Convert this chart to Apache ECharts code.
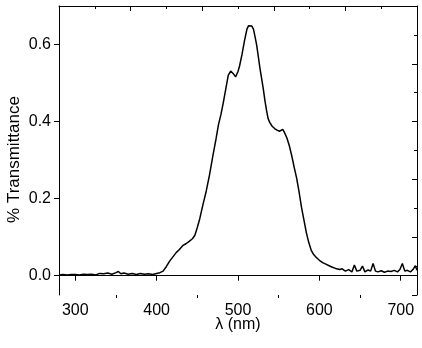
<!DOCTYPE html>
<html>
<head>
<meta charset="utf-8">
<script src="https://cdn.jsdelivr.net/npm/echarts@6/dist/echarts.min.js"></script>
<style>
  html, body { margin: 0; padding: 0; background: #fff; }
  #chart { width: 422px; height: 348px; }
</style>
</head>
<body>
<div id="chart"></div>
<script>
// transmission spectrum
const wavelength = [
  280, 285, 290, 295, 300, 305, 310, 315, 320, 325, 330, 335, 340, 345, 350, 353, 356, 360,
  365, 370, 375, 380, 385, 390, 395, 400, 404, 408, 412, 416, 420, 424, 428, 432, 436, 440,
  444, 447, 450, 453, 457, 461, 465, 469, 473, 476, 479, 482, 485, 488, 491, 494, 497, 500,
  502, 505, 508, 511, 513, 515, 517, 519, 521, 523, 525, 527, 529, 531, 533, 535, 537, 539,
  542, 545, 548, 551, 553, 555, 557, 560, 563, 566, 569, 572, 575, 578, 581, 584, 587, 590,
  593, 596, 600, 604, 608, 612, 616, 620, 625, 628, 632, 636, 640, 643, 646, 650, 653, 656,
  660, 663, 666, 669, 672, 676, 680, 684, 688, 692, 696, 699, 702, 705, 708, 712, 715, 718, 720
]
const transmittance = [
  0.002, 0.003, 0.002, 0.003, 0.003, 0.002, 0.004, 0.003, 0.004, 0.002, 0.006, 0.005, 0.007, 0.004, 0.008, 0.011, 0.005, 0.007,
  0.004, 0.006, 0.003, 0.006, 0.004, 0.005, 0.003, 0.006, 0.008, 0.012, 0.024, 0.038, 0.049, 0.060, 0.068, 0.078, 0.083, 0.089,
  0.096, 0.105, 0.125, 0.148, 0.185, 0.220, 0.262, 0.310, 0.355, 0.392, 0.418, 0.450, 0.485, 0.520, 0.531, 0.525, 0.516, 0.530,
  0.545, 0.575, 0.610, 0.640, 0.649, 0.652, 0.648, 0.640, 0.620, 0.598, 0.568, 0.538, 0.512, 0.486, 0.456, 0.430, 0.408, 0.398,
  0.388, 0.382, 0.378, 0.375, 0.378, 0.380, 0.372, 0.358, 0.338, 0.312, 0.282, 0.254, 0.218, 0.178, 0.145, 0.112, 0.086, 0.066,
  0.055, 0.048, 0.040, 0.034, 0.030, 0.026, 0.022, 0.019, 0.016, 0.018, 0.012, 0.016, 0.010, 0.028, 0.012, 0.014, 0.025, 0.010,
  0.015, 0.012, 0.032, 0.012, 0.010, 0.013, 0.009, 0.012, 0.011, 0.014, 0.010, 0.016, 0.032, 0.012, 0.014, 0.010, 0.016, 0.026, 0.014
]
const xMajorTicks = [300, 400, 500, 600, 700]
const xMinorTicks = [350, 450, 550, 650]
const yTicks = [0, 0.2, 0.4, 0.6]

const FONT = '"Liberation Sans", Arial, sans-serif'
const chart = echarts.init(document.getElementById('chart'))

// top/right frame axes have their own divisions (0..5), no labels
const frameAxis = (pos) => ({
  position: pos,
  type: 'value',
  min: 0,
  max: 5,
  interval: 1,
  axisLine: { show: true, lineStyle: { color: '#000', width: 1 } },
  axisTick: { show: true, inside: true, length: 5, lineStyle: { color: '#000' } },
  minorTick: { show: true, splitNumber: 2, length: 3, lineStyle: { color: '#000' } },
  axisLabel: { show: false },
  splitLine: { show: false }
})

chart.setOption({
  animation: false,
  backgroundColor: '#fff',
  grid: { left: 59, right: 5, top: 6, bottom: 53, outerBoundsMode: 'none' },
  xAxis: [
    {
      type: 'value',
      position: 'bottom',
      min: 280,
      max: 720,
      name: 'λ (nm)',
      nameLocation: 'middle',
      nameGap: 22,
      nameMoveOverlap: false,
      nameTextStyle: { fontFamily: FONT, fontSize: 16, color: '#000' },
      axisLine: { show: true, lineStyle: { color: '#000', width: 1 } },
      axisTick: { show: true, length: 5, customValues: xMajorTicks, lineStyle: { color: '#000' } },
      axisLabel: { customValues: xMajorTicks, margin: 8, fontFamily: FONT, fontSize: 16, color: '#000' },
      splitLine: { show: false }
    },
    {
      type: 'value',
      position: 'bottom',
      min: 280,
      max: 720,
      axisLine: { show: false },
      axisTick: { show: true, length: 3, customValues: xMinorTicks, lineStyle: { color: '#000' } },
      axisLabel: { show: false },
      splitLine: { show: false }
    },
    frameAxis('top')
  ],
  yAxis: [
    {
      type: 'value',
      position: 'left',
      min: -0.05,
      max: 0.7,
      name: '% Transmittance',
      nameLocation: 'middle',
      nameGap: 36,
      nameMoveOverlap: false,
      nameTextStyle: { fontFamily: FONT, fontSize: 17, color: '#000', padding: [0, 18, 0, 0] },
      axisLine: { show: true, lineStyle: { color: '#000', width: 1 } },
      axisTick: { show: true, length: 5, customValues: yTicks, lineStyle: { color: '#000' } },
      axisLabel: {
        customValues: yTicks,
        margin: 8,
        fontFamily: FONT,
        fontSize: 16,
        color: '#000',
        formatter: (v) => v.toFixed(1)
      },
      splitLine: { show: false }
    },
    frameAxis('right')
  ],
  series: [
    {
      type: 'line',
      xAxisIndex: 0,
      yAxisIndex: 0,
      showSymbol: false,
      lineStyle: { color: '#000', width: 1.5 },
      data: wavelength.map((w, i) => [w, transmittance[i]])
    }
  ]
})
</script>
</body>
</html>
